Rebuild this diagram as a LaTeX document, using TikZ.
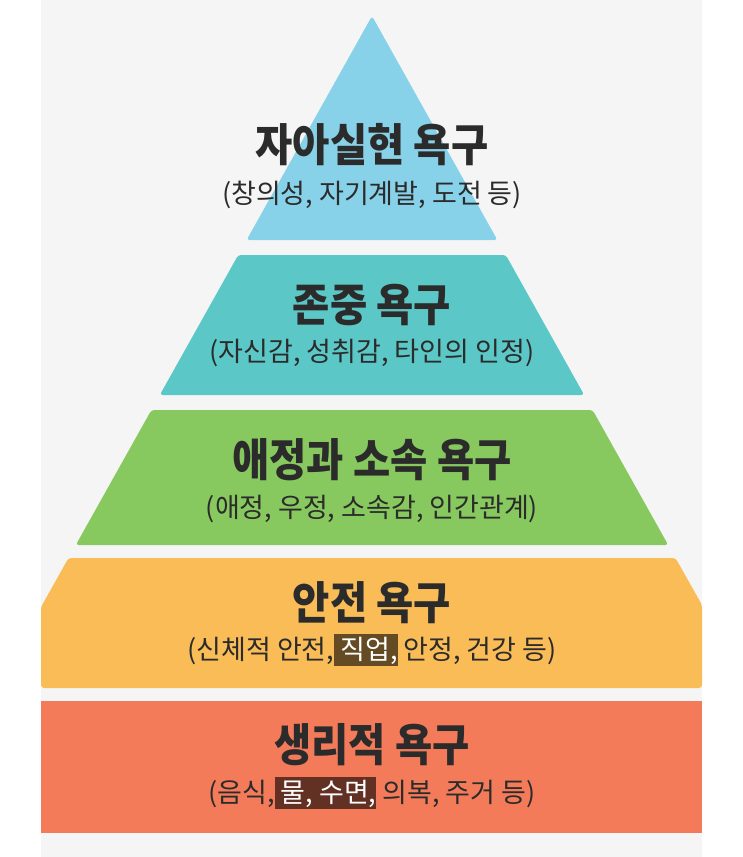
\documentclass[tikz,border=0pt]{standalone}
\usepackage{fontspec}
\newfontfamily\krfont{Noto Sans CJK KR}
\newfontfamily\krtitlefont[FakeStretch=0.9]{Noto Sans CJK KR}
\definecolor{panelgray}{HTML}{F5F5F5}
\definecolor{topblue}{HTML}{88D2E9}
\definecolor{esteemteal}{HTML}{5BC8C7}
\definecolor{lovegreen}{HTML}{87C95F}
\definecolor{safeorange}{HTML}{F9BC57}
\definecolor{bodyred}{HTML}{F47B5A}
\definecolor{inkgray}{HTML}{2B2B2B}
\colorlet{hlorange}{safeorange!40!black}
\colorlet{hlred}{bodyred!40!black}
\newcommand\hlmark[2]{{\setlength{\fboxsep}{0pt}\colorbox{#1}{\rule[-0.24em]{0pt}{1.2em}\color{white}#2}}}
\begin{document}
\begin{tikzpicture}[x=1pt,y=-1pt,
    tier/.style={rounded corners=3pt},
    needtitle/.style={inner sep=0pt,text=inkgray,font=\krtitlefont\bfseries\fontsize{45}{49}\selectfont},
    needsub/.style={inner sep=0pt,text=inkgray,font=\krfont\fontsize{27}{30}\selectfont}]
  \useasboundingbox (0,0) rectangle (743,857);
  \fill[white] (0,0) rectangle (743,857);
  \fill[panelgray] (41,0) rectangle (702,857);
  % pyramid, top to bottom
  \fill[topblue, tier] (372,16) -- (497.4,240) -- (246.6,240) -- cycle;
  \fill[esteemteal, tier] (238.2,255) -- (505.8,255) -- (584.2,395) -- (159.8,395) -- cycle;
  \fill[lovegreen, tier] (151.4,410) -- (592.6,410) -- (668.2,545) -- (75.8,545) -- cycle;
  \fill[safeorange, tier] (68.5,558) -- (675.5,558) -- (702,605) -- (702,688) -- (41,688) -- (41,607) -- cycle;
  \fill[bodyred] (41,701) rectangle (702,833);
  % labels
  \node[needtitle] (selfT) at (372,145) {자아실현 욕구};
  \node[needsub] (selfS) at (372,195) {(창의성, 자기계발, 도전 등)};
  \node[needtitle] (esteemT) at (372,305) {존중 욕구};
  \node[needsub] (esteemS) at (372,353) {(자신감, 성취감, 타인의 인정)};
  \node[needtitle] (loveT) at (372,460) {애정과 소속 욕구};
  \node[needsub] (loveS) at (372,509) {(애정, 우정, 소속감, 인간관계)};
  \node[needtitle] (safeT) at (372,603) {안전 욕구};
  \node[needsub] (safeS) at (372,650) {(신체적 안전,\hlmark{hlorange}{\ 직업,} 안정, 건강 등)};
  \node[needtitle] (bodyT) at (372,745) {생리적 욕구};
  \node[needsub] (bodyS) at (372,793) {(음식,\hlmark{hlred}{\ 물, 수면,} 의복, 주거 등)};
\end{tikzpicture}
\end{document}
